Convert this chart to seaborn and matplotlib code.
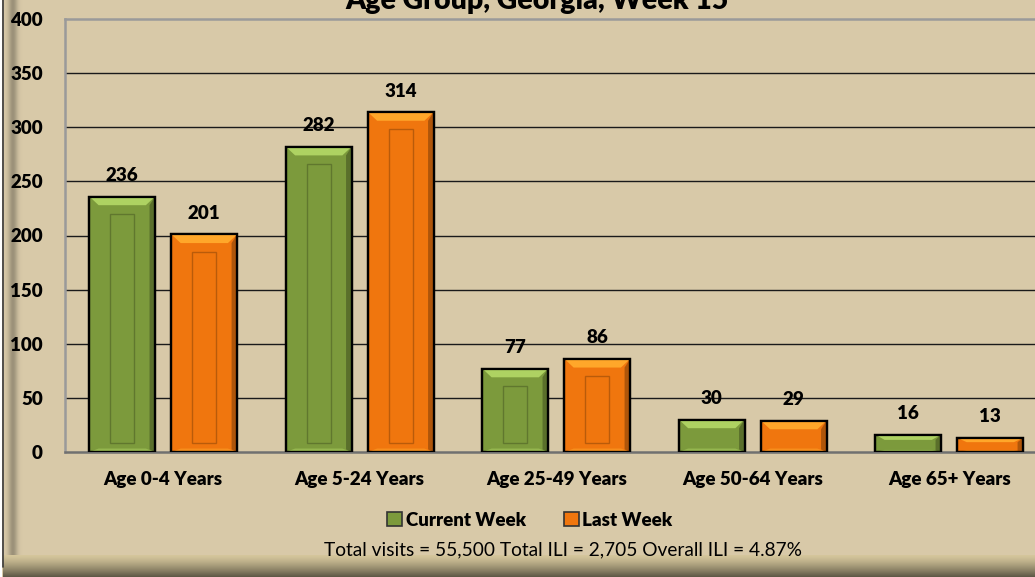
import numpy as np
import pandas as pd
import matplotlib
matplotlib.use("Agg")
import matplotlib.pyplot as plt
import seaborn as sns
from matplotlib.patches import Rectangle, Polygon

categories = ["Age 0-4 Years", "Age 5-24 Years", "Age 25-49 Years", "Age 50-64 Years", "Age 65+ Years"]
current_week = [236, 282, 77, 30, 16]
last_week = [201, 314, 86, 29, 13]
series_names = ["Current Week", "Last Week"]
y_ticks = [0, 50, 100, 150, 200, 250, 300, 350, 400]
title = "Age Group, Georgia, Week 15"
footer = "Total visits = 55,500 Total ILI = 2,705 Overall ILI = 4.87%"

BG = "#D8C9A8"
GREEN = "#7C9A3C"
ORANGE = "#F0760E"

sns.set_theme(style="white")
plt.rcParams["font.family"] = ["Lato", "DejaVu Sans"]
plt.rcParams["text.color"] = "black"
plt.rcParams["xtick.color"] = "black"
plt.rcParams["ytick.color"] = "black"

df = pd.DataFrame({
    "Age": categories * 2,
    "Count": current_week + last_week,
    "Week": [series_names[0]] * len(categories) + [series_names[1]] * len(categories),
})

W, H = 1035, 577
fig = plt.figure(figsize=(W / 100, H / 100), dpi=100)
fig.patch.set_facecolor(BG)

# frame decoration (bevelled border)
bg_ax = fig.add_axes([0, 0, 1, 1], zorder=-5)
bg_ax.set_xlim(0, W)
bg_ax.set_ylim(H, 0)
bg_ax.axis("off")
bg_ax.add_patch(Rectangle((0, 0), W, H, facecolor=BG, edgecolor="none"))
base = np.array(matplotlib.colors.to_rgb(BG))
for i in range(22):
    t = i / 21
    c = 1.0 - 0.28 * np.exp(-((t - 0.45) / 0.22) ** 2)
    bg_ax.add_patch(Rectangle((i + 3, 0), 1, H - 14, facecolor=np.clip(base * c, 0, 1), edgecolor="none"))
bg_ax.add_patch(Rectangle((0, 0), 2, H, facecolor="white", edgecolor="none"))
bg_ax.plot([2.5, 2.5], [0, H - 10], color="#3a3a3a", lw=1.2)
for i in range(22):
    t = i / 21
    c = 1.0 - 0.55 * t ** 1.3
    bg_ax.add_patch(Rectangle((3, 555 + i), W, 1, facecolor=np.clip(base * c * np.array([0.98, 0.98, 0.92]), 0, 1),
                              edgecolor="none"))

ax = fig.add_axes([65 / W, (H - 452) / H, 982.5 / W, 433 / H])
ax.set_facecolor(BG)
sns.barplot(data=df, x="Age", y="Count", hue="Week", palette=[GREEN, ORANGE], saturation=1,
            width=0.835, gap=0.2, edgecolor="black", linewidth=1.6, ax=ax,
            legend=False, zorder=3)

FS = 13.5
ax.set_xlim(-0.5, len(categories) - 0.5)
ax.set_ylim(0, 400)
ax.set_yticks(y_ticks)
ax.set_yticklabels([str(v) for v in y_ticks], fontsize=FS, fontweight="heavy")
ax.set_xticks(range(len(categories)))
ax.set_xticklabels(categories, fontsize=FS, fontweight="heavy")
ax.tick_params(axis="y", length=0, pad=16)
ax.tick_params(axis="x", length=0, pad=14)
ax.set_xlabel("")
ax.set_ylabel("")
for v in y_ticks[1:-1]:
    ax.axhline(v, color="#1a1a1a", lw=1, zorder=1)
for s in ["left", "top", "bottom"]:
    ax.spines[s].set_color("#9a9a9a")
    ax.spines[s].set_linewidth(1.8)
ax.spines["bottom"].set_color("#707070")
ax.spines["right"].set_visible(False)

# bevel effect and labels
for cont, col in zip(ax.containers, [GREEN, ORANGE]):
    rgb = np.array(matplotlib.colors.to_rgb(col))
    light = np.clip(rgb * 1.2 + 0.1, 0, 1)
    dark = rgb * 0.5
    for p in cont.patches:
        x0, w, h = p.get_x(), p.get_width(), p.get_height()
        inset_x = w * 0.14
        inset_y = min(8.0, h * 0.3)
        ax.add_patch(Polygon([(x0, h), (x0 + w, h), (x0 + w - inset_x, h - inset_y), (x0 + inset_x, h - inset_y)],
                             closed=True, facecolor=light, edgecolor="none", zorder=4))
        ax.add_patch(Polygon([(x0 + w, h), (x0 + w, 0), (x0 + w - inset_x * 0.6, inset_y * 0.3),
                              (x0 + w - inset_x * 0.6, h - inset_y)],
                             closed=True, facecolor=dark, edgecolor="none", alpha=0.55, zorder=4))
        ax.add_patch(Polygon([(x0, 0), (x0 + w, 0), (x0 + w - inset_x, inset_y * 0.4), (x0 + inset_x, inset_y * 0.4)],
                             closed=True, facecolor=light, edgecolor="none", alpha=0.5, zorder=4))
        if h > 40:
            ax.add_patch(Rectangle((x0 + w * 0.32, 8), w * 0.36, h - 16 - inset_y, facecolor="none",
                                   edgecolor=dark, lw=1.0, alpha=0.45, zorder=4))
        ax.add_patch(Rectangle((x0, 0), w, h, facecolor="none", edgecolor="black", lw=1.6, zorder=5))
    ax.bar_label(cont, labels=[str(int(p.get_height())) for p in cont.patches], padding=9,
                 fontsize=FS, fontweight="heavy", zorder=6)

fig.text(537 / W, 1 - 1 / H, title, ha="center", va="center", fontsize=20.5, fontweight="heavy")

handles = [Rectangle((0, 0), 1, 1, facecolor=GREEN, edgecolor="#333333", lw=1.2),
           Rectangle((0, 0), 1, 1, facecolor=ORANGE, edgecolor="#333333", lw=1.2)]
leg = fig.legend(handles, series_names, loc="center", bbox_to_anchor=(530 / W, 1 - 520 / H), ncol=2,
                 frameon=False, handlelength=0.8, handleheight=0.8, handletextpad=0.2, columnspacing=2.0,
                 prop={"size": FS, "weight": "heavy"})

fig.text(563 / W, 1 - 550 / H, footer, ha="center", va="center", fontsize=13.8)

fig.savefig("out.png", dpi=100, facecolor=BG)
